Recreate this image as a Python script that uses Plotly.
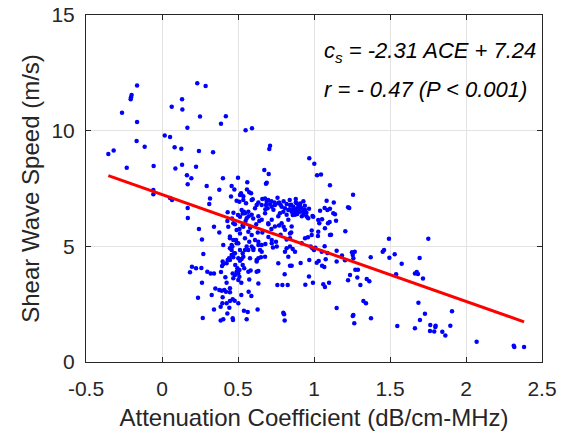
import plotly.graph_objects as go

# attenuation coefficient (dB/cm-MHz) of each measurement
ace = [
    -0.164, -0.20, -0.204, -0.206, -0.263, -0.164, -0.167, -0.114, -0.318, -0.353,
    -0.232, -0.055, -0.057, -0.057, 0.232, 0.287, 0.132, 0.064, 0.134, 0.25,
    0.42, 0.388, 0.167, 0.55, 0.592, 0.018, 0.053, 0.083, 0.127, 0.243,
    0.336, 0.132, 0.088, 0.224, 0.164, 0.193, 0.169, 0.294, 0.401, 0.50,
    0.377, 0.458, 0.476, 0.316, 0.454, 0.52, 0.053, 0.066, 0.169, 0.17,
    0.432, 0.561, 0.559, 0.574, 0.509, 0.535, 0.673, 0.702, 0.689, 0.684,
    0.711, 0.706,
    0.311, 0.513, 0.535, 0.586, 0.597, 0.553, 0.539, 0.531, 0.491, 0.77,
    0.82, 0.864, 0.886, 0.243, 0.263, 0.342, 0.377, 0.43, 0.447, 0.403,
    0.469, 0.491, 0.513,
    0.272, 0.197, 0.224, 0.259, 0.184, 0.298, 0.32, 0.342, 0.388, 0.263,
    0.237, 0.268, 0.342, 0.327, 0.351, 0.377, 0.393, 0.41, 0.421, 0.447,
    0.447, 0.399, 0.397, 0.386, 0.425, 0.447, 0.465, 0.478, 0.43, 0.443,
    0.386, 0.403, 0.465, 0.467, 0.502, 0.522, 0.539, 0.564, 0.557, 0.629,
    0.57, 0.588, 0.634, 0.574, 0.522, 0.502, 0.509, 0.469, 0.48, 0.502,
    0.491, 0.465, 0.425, 0.417, 0.568, 0.583, 0.623, 0.634, 0.765, 0.842,
    0.807, 0.759, 0.792, 0.827, 0.798, 0.803, 0.807, 0.403, 0.395, 0.399,
    0.425, 0.432, 0.441, 0.458, 0.469, 0.474, 0.458, 0.447, 0.463, 0.487,
    0.502, 0.513, 0.524, 0.535, 0.482, 0.496, 0.509, 0.531, 0.541, 0.513,
    0.531, 0.546, 0.568, 0.59, 0.601, 0.574, 0.623, 0.634, 0.651, 0.645,
    0.656, 0.634, 0.722, 0.755, 0.722, 0.809, 0.82, 0.842,
    0.59, 0.623, 0.634, 0.612, 0.656, 0.678, 0.689, 0.699, 0.684, 0.711,
    0.722, 0.695, 0.733, 0.743, 0.765, 0.776, 0.787, 0.798, 0.809, 0.82,
    0.831, 0.842, 0.853, 0.864, 0.875, 0.886, 0.897, 0.908, 0.919, 0.930,
    0.941, 0.952, 0.634, 0.656, 0.678, 0.699, 0.722, 0.743, 0.765, 0.787,
    0.809, 0.831, 0.853, 0.524, 0.546, 0.568, 0.59, 0.513, 0.557, 0.436,
    0.469, 0.491, 0.447, 0.535, 0.546, 0.568, 0.59, 0.612, 0.458, 0.502,
    0.557, 0.601, 0.634, 0.656, 0.48, 0.579, 0.623, 0.447, 0.678, 0.962,
    0.995, 1.028, 1.127, 1.072, 1.028, 0.985, 0.941, 0.919, 1.051, 1.105,
    1.149, 0.875, 0.831,
    0.969, 1.002, 1.02, 1.046, 1.105, 1.257, 1.083, 1.13, 1.224, 1.232,
    1.138, 1.105, 1.088, 1.07, 1.04, 1.053, 1.145, 1.103, 1.092, 1.035,
    0.99, 0.967, 1.206, 1.112, 1.026, 0.985, 0.96, 1.493,
    0.85, 0.87, 0.89, 0.91, 0.93, 0.86, 0.88, 0.90, 0.92, 0.94,
    0.95, 0.84, 0.87, 0.91, 0.89, 0.66, 0.72, 0.76, 0.80, 0.84,
    0.88, 0.93, 0.78, 0.74, 0.68, 0.46, 0.48, 0.50, 0.55, 0.58,
    0.60, 0.62, 0.64, 0.53, 0.57, 0.47, 0.51, 0.66, 0.70, 0.72,
    0.75, 0.78, 0.80, 0.68, 0.73, 0.77, 0.82, 0.70, 0.85, 0.63,
    0.978, 0.989, 1.00, 1.009, 1.07, 1.088, 1.149, 1.184, 1.25, 1.268,
    1.255, 1.259, 1.452, 1.461, 1.531, 1.496, 1.373, 0.853, 0.912, 0.969,
    1.018, 1.031, 1.053, 1.068, 1.077, 1.204, 1.272, 1.289, 1.237, 1.285,
    1.224, 1.305, 1.347, 1.364, 0.967, 0.993, 0.943, 1.061, 1.072, 1.099,
    1.149, 1.325, 1.342, 1.259, 1.255, 1.265, 1.375, 1.548, 1.54, 0.842,
    0.86, 0.842,
    1.752, 1.577, 1.695, 1.664, 1.676, 1.684, 1.717, 1.687, 1.73, 1.697,
    1.908, 1.664, 1.765, 1.763, 1.791, 1.80, 1.798, 1.844, 1.864, 1.897,
    2.07, 2.314, 2.318, 2.382,
]

# shear wave speed (m/s) of each measurement, same order as ace
cs = [
    11.95, 11.54, 11.44, 11.36, 10.77, 10.38, 9.55, 9.31, 9.14, 8.99,
    8.40, 8.47, 7.44, 7.25, 12.05, 11.93, 11.36, 11.03, 10.92, 10.61,
    10.62, 10.30, 10.13, 10.02, 10.10, 9.79, 9.73, 9.28, 9.22, 9.12,
    9.07, 8.53, 8.36, 8.44, 8.07, 7.94, 7.68, 7.61, 7.94, 7.96,
    7.45, 7.61, 7.46, 7.07, 7.15, 7.29, 7.09, 7.00, 6.66, 6.22,
    6.47, 7.77, 7.46, 7.34, 6.93, 7.00, 8.30, 8.13, 7.75, 7.70,
    9.35, 9.21,
    6.83, 7.22, 7.16, 7.29, 7.03, 6.86, 6.50, 6.42, 6.97, 6.89,
    6.83, 6.71, 6.86, 5.75, 5.30, 5.85, 5.60, 6.10, 5.35, 5.06,
    5.27, 5.13, 5.56,
    4.67, 4.12, 4.05, 4.06, 3.88, 3.90, 3.83, 3.83, 3.89, 3.43,
    2.78, 1.90, 2.27, 2.90, 3.18, 3.11, 3.08, 3.11, 3.04, 3.19,
    3.01, 2.80, 2.54, 2.39, 2.54, 2.64, 2.71, 2.65, 2.10, 2.35,
    1.79, 1.85, 1.89, 1.82, 2.54, 2.90, 2.22, 2.16, 1.85, 2.27,
    3.04, 2.85, 3.39, 3.57, 3.43, 3.55, 3.69, 3.62, 3.76, 3.83,
    3.90, 3.83, 3.43, 3.66, 3.90, 3.95, 3.90, 3.93, 4.27, 4.16,
    3.79, 3.33, 3.33, 3.33, 2.13, 2.06, 1.79, 4.24, 4.15, 4.34,
    4.27, 4.41, 4.48, 4.63, 4.53, 4.70, 4.84, 4.92, 4.99, 5.27,
    4.48, 4.38, 4.45, 4.55, 4.19, 4.05, 3.98, 4.19, 4.05, 4.84,
    4.70, 4.84, 4.84, 4.99, 4.92, 5.20, 4.41, 4.48, 4.53, 4.84,
    5.06, 5.20, 5.13, 4.99, 5.27, 4.77, 4.92, 4.99,
    7.00, 6.79, 6.90, 6.65, 6.79, 7.07, 6.93, 7.00, 6.79, 6.82,
    6.71, 6.65, 6.58, 6.79, 6.86, 6.43, 6.71, 6.50, 6.65, 6.36,
    6.57, 6.79, 6.50, 6.62, 6.36, 6.57, 6.79, 6.50, 6.65, 6.36,
    6.57, 6.29, 6.30, 6.15, 6.43, 6.00, 6.15, 5.86, 6.30, 6.00,
    5.72, 6.15, 5.86, 6.57, 6.43, 6.50, 6.36, 6.28, 6.21, 5.85,
    6.00, 5.71, 5.42, 5.85, 5.35, 5.63, 5.49, 5.27, 5.06, 5.13,
    4.99, 4.84, 5.06, 4.77, 4.70, 4.48, 4.34, 4.41, 4.55, 6.21,
    6.28, 6.14, 6.43, 5.78, 5.63, 5.49, 5.35, 5.13, 4.77, 5.49,
    4.34, 4.77, 4.55,
    8.81, 8.57, 8.07, 8.10, 7.64, 7.23, 6.97, 6.89, 6.69, 6.66,
    6.39, 6.62, 6.57, 6.66, 6.54, 6.17, 6.11, 6.05, 6.00, 6.00,
    6.31, 6.63, 5.65, 5.50, 5.45, 5.68, 5.39, 5.33,
    6.80, 6.60, 6.40, 6.70, 6.50, 6.35, 6.90, 6.55, 6.30, 6.75,
    6.45, 6.60, 6.45, 6.85, 6.65, 7.05, 6.95, 7.10, 6.95, 7.00,
    7.05, 6.95, 6.80, 6.90, 6.60, 6.20, 5.95, 6.35, 6.10, 5.80,
    6.20, 5.95, 6.10, 5.90, 6.30, 6.45, 5.75, 5.60, 5.40, 5.75,
    5.20, 5.50, 5.85, 5.10, 4.95, 5.90, 5.30, 5.95, 5.60, 5.60,
    4.99, 4.92, 4.84, 4.94, 5.00, 4.71, 4.81, 4.60, 4.74, 4.77,
    4.63, 4.48, 4.77, 4.84, 4.66, 4.51, 4.53, 4.16, 4.28, 4.41,
    4.29, 4.37, 4.16, 4.11, 4.44, 4.40, 3.99, 3.99, 3.76, 3.65,
    3.53, 3.33, 3.59, 3.49, 3.70, 3.43, 3.34, 3.36, 3.24, 3.43,
    2.33, 2.64, 2.54, 2.03, 1.99, 1.67, 1.89, 1.56, 3.79, 5.35,
    4.89, 5.56,
    5.33, 4.25, 4.50, 3.83, 3.89, 3.80, 3.61, 2.56, 2.09, 1.82,
    2.19, 1.46, 1.60, 1.34, 1.32, 1.57, 1.51, 1.31, 1.15, 1.57,
    0.88, 0.70, 0.65, 0.65,
]

# fitted line cs = slope * ACE + intercept
slope = -2.31
intercept = 7.24
fit_x = [min(ace), max(ace)]
fit_y = [slope * v + intercept for v in fit_x]

x_ticks = [-0.5, 0, 0.5, 1, 1.5, 2, 2.5]
x_tick_labels = ['-0.5', '0', '0.5', '1', '1.5', '2', '2.5']
y_ticks = [0, 5, 10, 15]
y_tick_labels = ['0', '5', '10', '15']

ink = '#262626'
font_family = 'Liberation Sans, Arial, sans-serif'

fig = go.Figure()
fig.add_trace(go.Scatter(x=ace, y=cs, mode='markers',
                         marker=dict(color='#0000ff', size=4.5, line=dict(width=0)),
                         showlegend=False))
fig.add_trace(go.Scatter(x=fit_x, y=fit_y, mode='lines',
                         line=dict(color='#ff0000', width=3),
                         showlegend=False))

fig.add_annotation(x=1.05, y=13.4, xref='x', yref='y', xanchor='left', yanchor='middle',
                   text='<i>c<sub>s</sub> = -2.31 ACE + 7.24</i>', showarrow=False,
                   font=dict(size=22, color='#000000', family=font_family))
fig.add_annotation(x=1.05, y=11.8, xref='x', yref='y', xanchor='left', yanchor='middle',
                   text='<i>r = - 0.47 (P < 0.001)</i>', showarrow=False,
                   font=dict(size=22, color='#000000', family=font_family))

fig.update_xaxes(range=[-0.5, 2.5], tickvals=x_ticks, ticktext=x_tick_labels,
                 showgrid=True, gridcolor='#e3e3e3', gridwidth=1, zeroline=False,
                 showline=True, linecolor=ink, linewidth=1, mirror='ticks',
                 ticks='inside', ticklen=5, tickcolor=ink, ticklabelstandoff=8,
                 ticklabeloverflow='allow',
                 tickfont=dict(size=21, color=ink),
                 title=dict(text='Attenuation Coefficient (dB/cm-MHz)', standoff=12,
                            font=dict(size=24, color=ink)),
                 automargin=False)
fig.update_yaxes(range=[0, 15], tickvals=y_ticks, ticktext=y_tick_labels,
                 showgrid=True, gridcolor='#e3e3e3', gridwidth=1, zeroline=False,
                 showline=True, linecolor=ink, linewidth=1, mirror='ticks',
                 ticks='inside', ticklen=5, tickcolor=ink, ticklabelstandoff=6,
                 ticklabeloverflow='allow',
                 tickfont=dict(size=21, color=ink),
                 title=dict(text='Shear Wave Speed (m/s)', standoff=5,
                            font=dict(size=24, color=ink)),
                 automargin=False)

# the page body adds an 8 px margin; the figure runs past the window edge a little
fig.update_layout(width=564, height=423,
                  margin=dict(l=78, r=30, t=7, b=69),
                  plot_bgcolor='white', paper_bgcolor='white',
                  font=dict(family=font_family, color=ink))

fig.write_html('out.html')
